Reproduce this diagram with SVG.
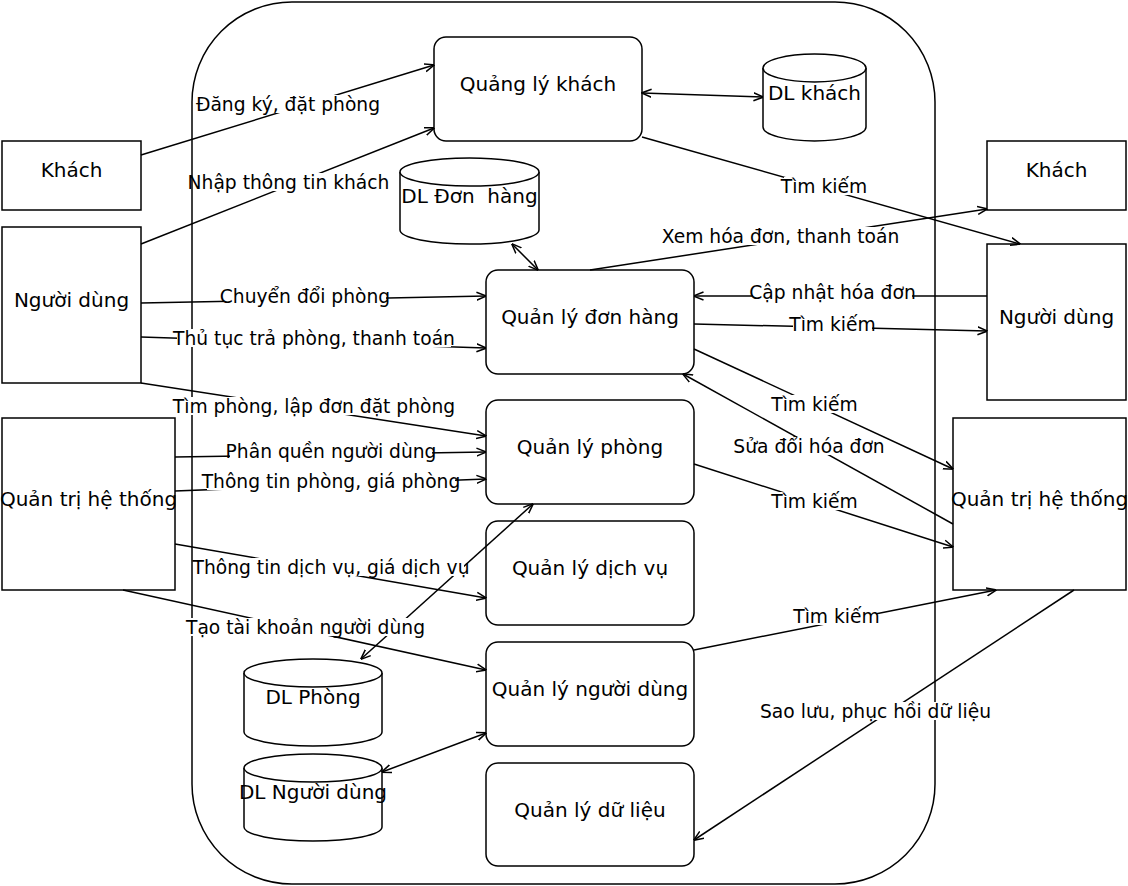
<svg xmlns="http://www.w3.org/2000/svg" width="1128" height="886" viewBox="0 0 1128 886">
<defs>
<marker id="arr" viewBox="0 0 10 10" refX="9.5" refY="5" markerWidth="10" markerHeight="10" markerUnits="userSpaceOnUse" orient="auto-start-reverse">
<path d="M0,1 L10,5 L0,9" fill="none" stroke="#000" stroke-width="1.5"/>
</marker>
</defs>
<style>
text{font-family:"DejaVu Sans","Noto Sans",sans-serif;font-size:18.7px;fill:#000;text-anchor:middle;dominant-baseline:central}
.t{font-size:20px}
.n{fill:#fff;stroke:#000;stroke-width:1.5}
.e{fill:none;stroke:#000;stroke-width:1.5;marker-end:url(#arr)}
.b{marker-start:url(#arr)}
.lb{fill:#fff}
.pre{white-space:pre}
</style>
<rect width="1128" height="886" fill="#fff"/>
<g id="container">
<rect x="192" y="2" width="743" height="882" rx="100" ry="100" class="n"/>
</g>
<g id="khach-left"><rect x="2" y="141" width="139" height="69" class="n"/><text class="t" x="71.5" y="170">Khách</text></g>
<g id="nguoidung-left"><rect x="2" y="227" width="139" height="156" class="n"/><text class="t" x="71.5" y="300">Người dùng</text></g>
<g id="qtht-left"><rect x="2" y="418" width="173" height="172" class="n"/><text class="t" x="88.5" y="499">Quản trị hệ thống</text></g>
<g id="khach-right"><rect x="987" y="141" width="139" height="69" class="n"/><text class="t" x="1056.5" y="170">Khách</text></g>
<g id="nguoidung-right"><rect x="987" y="244" width="139" height="156" class="n"/><text class="t" x="1056.5" y="317">Người dùng</text></g>
<g id="qtht-right"><rect x="953" y="418" width="173" height="172" class="n"/><text class="t" x="1039.5" y="499">Quản trị hệ thống</text></g>
<g id="ql-khach"><rect x="434" y="37" width="208" height="104" rx="12" class="n"/><text class="t" x="538" y="84">Quảng lý khách</text></g>
<g id="ql-donhang"><rect x="486" y="270" width="208" height="104" rx="12" class="n"/><text class="t" x="590" y="317">Quản lý đơn hàng</text></g>
<g id="ql-phong"><rect x="486" y="400" width="208" height="104" rx="12" class="n"/><text class="t" x="590" y="447">Quản lý phòng</text></g>
<g id="ql-dichvu"><rect x="486" y="521" width="208" height="104" rx="12" class="n"/><text class="t" x="590" y="568">Quản lý dịch vụ</text></g>
<g id="ql-nguoidung"><rect x="486" y="642" width="208" height="104" rx="12" class="n"/><text class="t" x="590" y="689">Quản lý người dùng</text></g>
<g id="ql-dulieu"><rect x="486" y="763" width="208" height="103" rx="12" class="n"/><text class="t" x="590" y="810">Quản lý dữ liệu</text></g>
<g id="dl-khach">
<path d="M763,68 A51.5,14 0 0 1 866,68 L866,127 A51.5,14 0 0 1 763,127 Z" class="n"/>
<path d="M763,68 A51.5,14 0 0 0 866,68" class="n"/>
<text class="t" x="814.5" y="93">DL khách</text></g>
<g id="dl-donhang">
<path d="M400,172 A69.5,14 0 0 1 539,172 L539,230 A69.5,14 0 0 1 400,230 Z" class="n"/>
<path d="M400,172 A69.5,14 0 0 0 539,172" class="n"/>
<text class="t pre" x="469.5" y="196">DL Đơn  hàng</text></g>
<g id="dl-phong">
<path d="M244,673 A69,14 0 0 1 382,673 L382,732 A69,14 0 0 1 244,732 Z" class="n"/>
<path d="M244,673 A69,14 0 0 0 382,673" class="n"/>
<text class="t" x="313" y="697">DL Phòng</text></g>
<g id="dl-nguoidung">
<path d="M244,768 A69,14 0 0 1 382,768 L382,827 A69,14 0 0 1 244,827 Z" class="n"/>
<path d="M244,768 A69,14 0 0 0 382,768" class="n"/>
<text class="t" x="313" y="792">DL Người dùng</text></g>
<g id="connectors">
<line x1="141" y1="155" x2="434" y2="65" class="e"/>
<line x1="141" y1="244" x2="434" y2="128" class="e"/>
<line x1="642" y1="93" x2="763" y2="97" class="e b"/>
<line x1="642" y1="137" x2="1020" y2="244" class="e"/>
<line x1="590" y1="270" x2="987" y2="209" class="e"/>
<line x1="512" y1="244" x2="538" y2="270" class="e b"/>
<line x1="987" y1="296" x2="694" y2="296" class="e"/>
<line x1="694" y1="324" x2="987" y2="331" class="e"/>
<line x1="694" y1="349" x2="953" y2="469" class="e"/>
<line x1="953" y1="524" x2="683" y2="374" class="e"/>
<line x1="694" y1="464" x2="953" y2="547" class="e"/>
<line x1="694" y1="650" x2="996" y2="590" class="e"/>
<line x1="1074" y1="590" x2="694" y2="840" class="e"/>
<line x1="141" y1="303" x2="486" y2="296" class="e"/>
<line x1="141" y1="337" x2="486" y2="348" class="e"/>
<line x1="141" y1="383" x2="486" y2="436" class="e"/>
<line x1="175" y1="457" x2="486" y2="452" class="e"/>
<line x1="175" y1="491" x2="486" y2="479" class="e"/>
<line x1="175" y1="544" x2="486" y2="598" class="e"/>
<line x1="123" y1="590" x2="486" y2="670" class="e"/>
<line x1="533" y1="504" x2="361" y2="659" class="e b"/>
<line x1="382" y1="772" x2="486" y2="733" class="e b"/>
</g>
<g id="labels">
<rect x="199" y="95" width="178" height="18" class="lb"/><text x="288" y="104">Đăng ký, đặt phòng</text>
<rect x="193" y="173" width="191" height="18" class="lb"/><text x="288.5" y="182">Nhập thông tin khách</text>
<rect x="784" y="177" width="80" height="18" class="lb"/><text x="824" y="186">Tìm kiếm</text>
<rect x="664" y="227" width="233" height="18" class="lb"/><text x="780.5" y="236">Xem hóa đơn, thanh toán</text>
<rect x="753" y="283" width="159" height="18" class="lb"/><text x="832.5" y="292">Cập nhật hóa đơn</text>
<rect x="793" y="315" width="79" height="18" class="lb"/><text x="832.5" y="324">Tìm kiếm</text>
<rect x="775" y="395" width="79" height="18" class="lb"/><text x="814.5" y="404">Tìm kiếm</text>
<rect x="737" y="437" width="144" height="18" class="lb"/><text x="809" y="446">Sửa đổi hóa đơn</text>
<rect x="775" y="492" width="79" height="18" class="lb"/><text x="814.5" y="501">Tìm kiếm</text>
<rect x="797" y="607" width="79" height="18" class="lb"/><text x="836.5" y="616">Tìm kiếm</text>
<rect x="764" y="702" width="223" height="18" class="lb"/><text x="875.5" y="711">Sao lưu, phục hồi dữ liệu</text>
<rect x="224" y="287" width="162" height="18" class="lb"/><text x="305" y="296">Chuyển đổi phòng</text>
<rect x="177" y="329" width="274" height="18" class="lb"/><text x="314" y="338">Thủ tục trả phòng, thanh toán</text>
<rect x="179" y="397" width="270" height="18" class="lb"/><text x="314" y="406">Tìm phòng, lập đơn đặt phòng</text>
<rect x="230" y="442" width="202" height="18" class="lb"/><text x="331" y="451">Phân quền người dùng</text>
<rect x="207" y="472" width="248" height="18" class="lb"/><text x="331" y="481">Thông tin phòng, giá phòng</text>
<rect x="198" y="558" width="266" height="18" class="lb"/><text x="331" y="567">Thông tin dịch vụ, giá dịch vụ</text>
<rect x="190" y="618" width="231" height="18" class="lb"/><text x="305.5" y="627">Tạo tài khoản người dùng</text>
</g>
</svg>
